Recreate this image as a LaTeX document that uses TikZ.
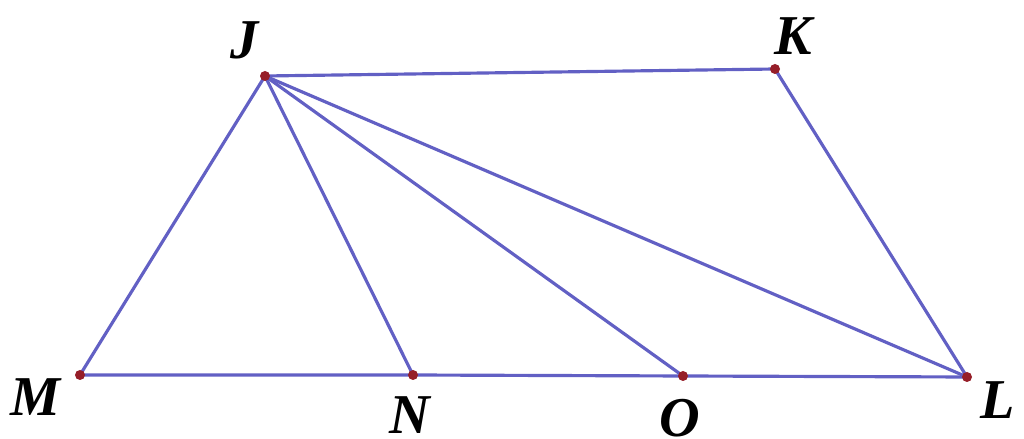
\documentclass[tikz,border=0pt]{standalone}
\usepackage{fontspec}
\setmainfont{Liberation Serif}
\usetikzlibrary{positioning}
\definecolor{seg}{RGB}{98,96,196}
\definecolor{pt}{RGB}{150,30,40}
\tikzset{lbl/.style={font=\fontsize{16}{19}\selectfont\bfseries\itshape},
pnt/.style={circle,fill=pt,inner sep=0pt,minimum size=0.1cm}}

\begin{document}
\begin{tikzpicture}[line width=0.9pt,seg]
\useasboundingbox (0,0) rectangle (10.24,4.39);
\coordinate (pJ) at (2.65,3.63);
\coordinate (pK) at (7.75,3.70);
\coordinate (pM) at (0.80,0.64);
\coordinate (pN) at (4.13,0.64);
\coordinate (pO) at (6.83,0.63);
\coordinate (pL) at (9.67,0.62);

\draw (pM)--(pJ)--(pK)--(pL)--(pO)--(pN)--(pM);
\draw (pJ)--(pN);
\draw (pJ)--(pO);
\draw (pJ)--(pL);

\foreach \p in {pJ,pK,pM,pN,pO,pL}
\node[pnt] at (\p) {};

\node[lbl,black] at (2.45,3.99) {J};
\node[lbl,black] at (7.93,4.03) {K};
\node[lbl,black] at (0.35,0.42) {M};
\node[lbl,black] at (4.10,0.24) {N};
\node[lbl,black] at (6.80,0.21) {O};
\node[lbl,black] at (9.98,0.39) {L};
\end{tikzpicture}
\end{document}
